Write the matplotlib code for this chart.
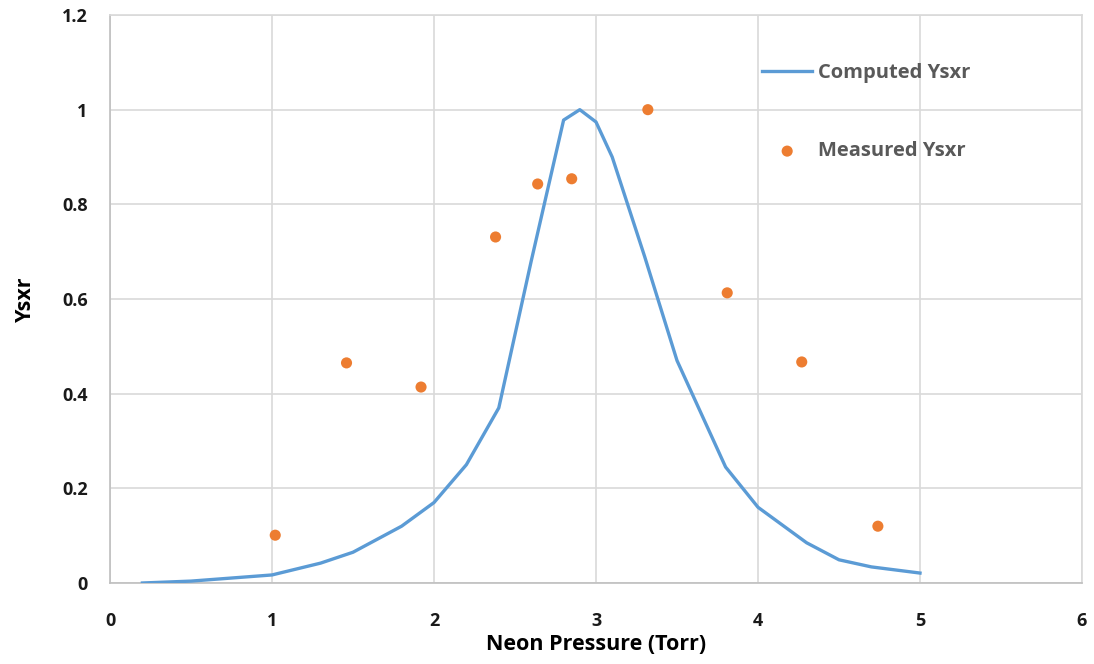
"""Computed vs measured Ysxr against neon pressure."""

import matplotlib
matplotlib.use("Agg")
import matplotlib.pyplot as plt

# Computed curve (Torr, normalised yield)
computed_x = [0.2, 0.5, 1.0, 1.3, 1.5, 1.8, 2.0, 2.2, 2.4, 2.6, 2.8, 2.9,
              3.0, 3.1, 3.3, 3.5, 3.8, 4.0, 4.3, 4.5, 4.7, 5.0]
computed_y = [0.0, 0.004, 0.017, 0.042, 0.065, 0.12, 0.17, 0.25, 0.37, 0.68,
              0.978, 1.0, 0.974, 0.90, 0.69, 0.47, 0.245, 0.16, 0.085, 0.049,
              0.034, 0.021]

# Measured points
measured_x = [1.02, 1.46, 1.92, 2.38, 2.64, 2.85, 3.32, 3.81, 4.27, 4.74]
measured_y = [0.101, 0.465, 0.414, 0.731, 0.843, 0.854, 1.0, 0.613, 0.467, 0.120]

x_ticks = [0, 1, 2, 3, 4, 5, 6]
y_ticks = [0, 0.2, 0.4, 0.6, 0.8, 1.0, 1.2]
y_tick_labels = ["0", "0.2", "0.4", "0.6", "0.8", "1", "1.2"]

plt.rcParams['font.family'] = ['Open Sans', 'DejaVu Sans']

fig = plt.figure(figsize=(10.94, 6.64), dpi=100)
ax = fig.add_axes([110 / 1094, 81 / 664, 972 / 1094, 568 / 664])

ax.plot(computed_x, computed_y, color="#5B9BD5", lw=2.4, label="Computed Ysxr", zorder=3)
ax.scatter(measured_x, measured_y, s=64, color="#ED7D31", edgecolors="none",
           label="Measured Ysxr", zorder=4)

ax.set_xlim(0, 6)
ax.set_ylim(0, 1.2)
ax.set_xticks(x_ticks)
ax.set_yticks(y_ticks)
ax.set_yticklabels(y_tick_labels)
ax.tick_params(length=0, labelsize=13, colors="#1A1A1A")
ax.tick_params(axis="x", pad=21)
ax.tick_params(axis="y", pad=16)
for lab in ax.get_xticklabels() + ax.get_yticklabels():
    lab.set_fontweight("bold")

ax.grid(True, color="#D9D9D9", lw=1.2)
ax.set_axisbelow(True)
for s in ax.spines.values():
    s.set_color("#D9D9D9")
    s.set_linewidth(1.2)
ax.spines["left"].set_color("#BFBFBF")
ax.spines["bottom"].set_color("#BFBFBF")

ax.set_xlabel("Neon Pressure (Torr)", fontsize=15.5, fontweight="bold", labelpad=3)
ax.set_ylabel("Ysxr", fontsize=15.5, fontweight="bold", labelpad=19)

leg = ax.legend(loc="upper left", bbox_to_anchor=((762 - 110) / 972, 1 - (63 - 15) / 568),
                frameon=False, fontsize=14.5, handlelength=2.5, handletextpad=0.3,
                labelspacing=2.9, borderpad=0, borderaxespad=0)
for t in leg.get_texts():
    t.set_color("#595959")
    t.set_fontweight("bold")

fig.savefig("out.png", dpi=100)
